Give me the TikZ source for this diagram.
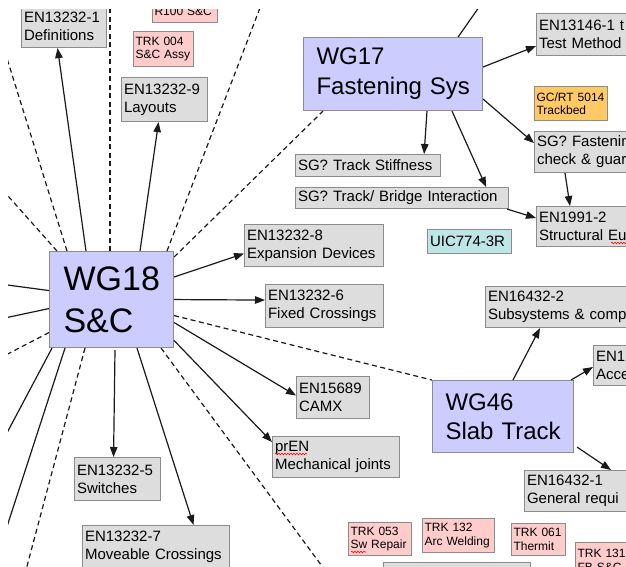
\documentclass[tikz,border=0pt]{standalone}
\usepackage{fontspec}
\setmainfont{Liberation Sans}
\usetikzlibrary{arrows.meta,calc,decorations.pathmorphing}
\definecolor{wgfill}{HTML}{CCCCFF}
\definecolor{boxgray}{HTML}{DDDDDD}
\definecolor{pinkfill}{HTML}{FFCCCC}
\definecolor{orangefill}{HTML}{FFC966}
\definecolor{tealfill}{HTML}{BEE6E6}
\definecolor{edgegray}{HTML}{8C8C8C}
\definecolor{linec}{HTML}{1A1A1A}
\frenchspacing
\begin{document}
\begin{tikzpicture}[x=1pt,y=-1pt,
  base/.style={draw=edgegray, line width=1.1pt, anchor=north west, inner ysep=0pt, align=left},
  wg/.style={base, fill=wgfill, inner xsep=13pt},
  gbox/.style={base, fill=boxgray, inner xsep=2.5pt, font=\fontsize{15}{18}\selectfont},
  pbox/.style={base, fill=pinkfill, inner xsep=2pt, font=\fontsize{12}{13.5}\selectfont},
  obox/.style={pbox, fill=orangefill},
  tbox/.style={gbox, fill=tealfill},
  wh/.style n args={3}{minimum width=#1pt, minimum height=#2pt, text width=#3pt},
  link/.style={draw=linec, line width=1.2pt},
  arr/.style={link, -{Triangle[length=10pt,width=7.5pt]}},
  dline/.style={link, dash pattern=on 5pt off 3.5pt},
  spell/.style={draw=red, line width=0.6pt, decorate, decoration={snake, amplitude=0.8pt, segment length=3pt}}
]
\useasboundingbox (0,0) rectangle (626,566);
\fill[white] (0,0) rectangle (626,566);
\begin{scope}
\clip (8,9) rectangle (626,566);

% main working groups
\node[wg, inner xsep=14pt, wh={124}{96}{96}, font=\fontsize{34}{42}\selectfont] (wg18) at (49,251) {WG18\\S\&C};
\node[wg, wh={179}{73}{153}, font=\fontsize{24}{30}\selectfont] (wg17) at (303,37) {WG17\\Fastening~Sys};
\node[wg, wh={141}{72}{115}, font=\fontsize{24}{29}\selectfont] (wg46) at (432,380) {WG46\\Slab~Track};

% grey boxes
\node[gbox, wh={85}{43}{80}] (en1) at (21,4) {EN13232-1\\Definitions};
\node[gbox, wh={86}{44}{81}] (en9) at (121,77) {EN13232-9\\Layouts};
\node[gbox, wh={139}{42}{134}] (en8) at (244,224) {EN13232-8\\Expansion~Devices};
\node[gbox, wh={118}{43}{113}] (en6) at (265,284) {EN13232-6\\Fixed~Crossings};
\node[gbox, wh={73}{42}{68}] (camx) at (296,376) {EN15689\\CAMX};
\node[gbox, wh={127}{41}{122}] (pren) at (272,436) {prEN\\Mechanical~joints};
\node[gbox, wh={86}{43}{81}] (en5) at (74,457) {EN13232-5\\Switches};
\node[gbox, wh={147}{43}{142}] (en7) at (82,525) {EN13232-7\\Moveable~Crossings};
\node[gbox, wh={145}{22}{140}] (stiff) at (295,154) {SG?~Track~Stiffness};
\node[gbox, wh={213}{21}{208}] (bridge) at (295,187) {SG?~Track/~Bridge~Interaction};
\node[tbox, wh={84}{24}{79}] (uic) at (427,229) {UIC774-3R};
\node[gbox, wh={100}{42}{95}] (tm) at (536,13) {EN13146-1~t\\Test~Method};
\node[gbox, wh={100}{41}{95}] (sgf) at (534,131) {SG?~Fastenin\\check~\&~guar};
\node[gbox, wh={100}{40}{95}] (en1991) at (536,206) {EN1991-2\\Structural~Eu};
\node[gbox, wh={160}{41}{155}] (en2) at (485,286) {EN16432-2\\Subsystems~\&~comp};
\node[gbox, wh={50}{40}{45}] (acc) at (593,345) {EN1\\Acce};
\node[gbox, wh={110}{41}{105}] (gen) at (524,470) {EN16432-1\\General~requi};
\node[gbox, wh={147}{30}{142}] (lowbox) at (383,562) {};

% pink / orange boxes
\node[pbox, wh={65}{22}{61}] (r100) at (152,0) {R100~S\&C};
\node[pbox, wh={60}{35}{56}] (trk004) at (133,31) {TRK~004\\S\&C~Assy};
\node[obox, wh={73}{34}{69}] (gcrt) at (534,86) {GC/RT~5014\\Trackbed};
\node[pbox, wh={63}{33}{59}] (trk053) at (348,522) {TRK~053\\Sw~Repair};
\node[pbox, wh={72}{34}{68}] (trk132) at (422,518) {TRK~132\\Arc~Welding};
\node[pbox, wh={54}{32}{50}] (trk061) at (511,523) {TRK~061\\Thermit};
\node[pbox, wh={60}{36}{56}] (trk131) at (575,542) {TRK~131\\FB~S\&C};

% free ends of connectors leaving the picture
\coordinate (fa) at (0,187);
\coordinate (fb) at (0,36);
\coordinate (fd) at (110,0);
\coordinate (ff) at (263,0);
\coordinate (fg) at (484,0);
\coordinate (fm) at (347,600);
\coordinate (fp) at (18,600);
\coordinate (fq) at (0,548);
\coordinate (fr) at (0,446);
\coordinate (fs) at (0,358);
\coordinate (ft) at (0,319);
\coordinate (fu) at (0,284);

% WG18 spokes
\draw[dline] ($(wg18.north west)+(8,0)$) -- (fa);
\draw[dline] ($(wg18.north west)+(18,0)$) -- (fb);
\draw[arr] ($(wg18.north west)+(37,0)$) -- ($(en1.south)+(-6.5,0)$);
\draw[dline] ($(wg18.north west)+(61,0)$) -- (fd);
\draw[arr] ($(wg18.north west)+(91,0)$) -- ($(en9.south)+(-6,0)$);
\draw[dline] ($(wg18.north west)+(118,0)$) -- (ff);
\draw[dline] ($(wg18.north east)+(0,6)$) -- ($(wg17.south west)+(20,0)$);
\draw[arr] ($(wg18.north east)+(0,26)$) -- ($(en8.west)+(0,8)$);
\draw[arr] (wg18.east) -- ($(en6.west)+(0,-6)$);
\draw[dline] ($(wg18.east)+(0,16)$) -- (wg46.north west);
\draw[arr] ($(wg18.east)+(0,23)$) -- ($(camx.west)+(0,-2)$);
\draw[arr] ($(wg18.east)+(0,41)$) -- ($(pren.north west)+(0,6)$);
\draw[dline] ($(wg18.south east)+(-13,0)$) -- (fm);
\draw[arr] ($(wg18.south west)+(88,0)$) -- ($(en7.north)+(37.5,0)$);
\draw[arr] ($(wg18.south west)+(66,2)$) -- ($(en5.north)+(-4,0)$);
\draw[dline] ($(wg18.south west)+(36,0)$) -- (fp);
\draw[link] ($(wg18.south west)+(16,0)$) -- (fq);
\draw[link] ($(wg18.south west)+(3,0)$) -- (fr);
\draw[dline] ($(wg18.west)+(0,33)$) -- (fs);
\draw[link] ($(wg18.west)+(0,9)$) -- (ft);
\draw[link] ($(wg18.west)+(0,-9)$) -- (fu);

% WG17 links
\draw[link] ($(wg17.north east)+(-25,0)$) -- (fg);
\draw[arr] ($(wg17.north east)+(0,30)$) -- ($(tm.south west)+(0,-10)$);
\draw[arr] ($(wg17.south east)+(0,-12)$) -- ($(sgf.north west)+(0,12)$);
\draw[arr] ($(wg17.south west)+(124,0)$) -- ($(stiff.north east)+(-17,0)$);
\draw[arr] ($(wg17.south west)+(149,0)$) -- ($(bridge.north east)+(-23,0)$);
\draw[arr] ($(bridge.south east)+(-2,0)$) -- ($(en1991.north west)+(0,12)$);
\draw[arr] ($(sgf.south west)+(31,0)$) -- ($(en1991.north west)+(34,0)$);

% WG46 links
\draw[arr] ($(wg46.north west)+(81,0)$) -- ($(en2.south west)+(55,0)$);
\draw[arr] ($(wg46.north east)+(-3,0)$) -- ($(acc.north west)+(0,22)$);
\draw[arr] ($(wg46.south east)+(3,-6)$) -- ($(gen.north west)+(87,0)$);

% spell-check marks
\draw[spell] (275,454) -- (307,454);
\draw[spell] (351,552) -- (366,552);
\draw[spell] (611,243) -- (628,243);
\end{scope}
\end{tikzpicture}
\end{document}
